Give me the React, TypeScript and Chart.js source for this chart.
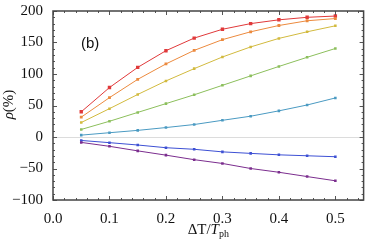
import React, { useEffect, useRef } from "react";
import { Chart, registerables } from "chart.js";

Chart.register(...registerables);

const xValues = [0.05, 0.1, 0.15, 0.2, 0.25, 0.3, 0.35, 0.4, 0.45, 0.5];
const redSeries = [40, 78.5, 110.5, 137, 157, 171, 180, 186, 190, 192];
const orangeSeries = [31.5, 62.5, 91.5, 116, 137.5, 154.5, 167, 177, 184.5, 188];
const yellowSeries = [23, 45, 67.5, 89, 108.5, 127, 143, 156.5, 167, 176.5];
const greenSeries = [12, 25, 39, 53, 67, 82, 97, 112, 126.5, 140.5];
const cyanSeries = [3, 6.8, 10.5, 15, 19.8, 26.5, 33, 41.5, 50.8, 62];
const blueSeries = [-5.5, -9, -12.7, -17, -19.5, -23.6, -26, -28.3, -29.8, -31.3];
const purpleSeries = [-8.6, -14.8, -22, -28.8, -36, -42, -50, -56, -62.8, -69.5];

const xTicks = [0, 0.1, 0.2, 0.3, 0.4, 0.5];
const yTicks = [-100, -50, 0, 50, 100, 150, 200];

const SERIF = "'Liberation Serif', 'Times New Roman', serif";

const framePlugin = {
  id: "framePlugin",
  beforeDatasetsDraw(chart: any) {
    const { ctx, chartArea, scales } = chart;
    const y0 = scales.y.getPixelForValue(0);
    ctx.save();
    ctx.strokeStyle = "#dcdcdc";
    ctx.lineWidth = 1;
    ctx.beginPath();
    ctx.moveTo(chartArea.left, Math.round(y0) + 0.5);
    ctx.lineTo(chartArea.right, Math.round(y0) + 0.5);
    ctx.stroke();
    ctx.restore();
  },
  afterDraw(chart: any) {
    const { ctx, chartArea, scales } = chart;
    const { left, right, top, bottom } = chartArea;
    ctx.save();
    ctx.strokeStyle = "#555";
    ctx.lineWidth = 1;
    // ticks
    const drawX = (v: number, len: number) => {
      const px = Math.round(scales.x.getPixelForValue(v)) + 0.5;
      ctx.beginPath();
      ctx.moveTo(px, bottom);
      ctx.lineTo(px, bottom - len);
      ctx.moveTo(px, top);
      ctx.lineTo(px, top + len);
      ctx.stroke();
    };
    const drawY = (v: number, len: number) => {
      const py = Math.round(scales.y.getPixelForValue(v)) + 0.5;
      ctx.beginPath();
      ctx.moveTo(left, py);
      ctx.lineTo(left + len, py);
      ctx.moveTo(right, py);
      ctx.lineTo(right - len, py);
      ctx.stroke();
    };
    for (let i = 0; i <= 27; i++) {
      const v = i * 0.02;
      const major = i % 5 === 0;
      drawX(v, major ? 4 : 2);
    }
    for (let i = -10; i <= 20; i++) {
      const v = i * 10;
      const major = i % 5 === 0;
      drawY(v, major ? 4 : 2);
    }
    // frame
    ctx.lineWidth = 1.5;
    ctx.strokeStyle = "#444";
    ctx.strokeRect(left, top, right - left, bottom - top);
    ctx.restore();

    // titles
    ctx.save();
    ctx.fillStyle = "#111";
    ctx.textBaseline = "alphabetic";
    // x title: ΔT/T_ph
    const partA = "\u0394T/";
    const partB = "T";
    const partC = "ph";
    ctx.font = `15px ${SERIF}`;
    const wA = ctx.measureText(partA).width;
    ctx.font = `italic 15px ${SERIF}`;
    const wB = ctx.measureText(partB).width;
    ctx.font = `10px ${SERIF}`;
    const wC = ctx.measureText(partC).width;
    const total = wA + wB + wC;
    const cx = (left + right) / 2;
    let x = cx - total / 2;
    const baseY = 234;
    ctx.textAlign = "left";
    ctx.font = `15px ${SERIF}`;
    ctx.fillText(partA, x, baseY);
    x += wA;
    ctx.font = `italic 15px ${SERIF}`;
    ctx.fillText(partB, x, baseY);
    x += wB;
    ctx.font = `10px ${SERIF}`;
    ctx.fillText(partC, x, baseY + 3);

    // y title: ρ(%)
    ctx.translate(13, (top + bottom) / 2 - 1);
    ctx.rotate(-Math.PI / 2);
    ctx.font = `italic 15px ${SERIF}`;
    const rho = "\u03C1";
    const rest = "(%)";
    const wr = ctx.measureText(rho).width;
    ctx.font = `15px ${SERIF}`;
    const wrest = ctx.measureText(rest).width;
    let yx = -(wr + wrest) / 2;
    ctx.font = `italic 15px ${SERIF}`;
    ctx.fillText(rho, yx, 0);
    yx += wr;
    ctx.font = `15px ${SERIF}`;
    ctx.fillText(rest, yx, 0);
    ctx.restore();

    // panel label
    ctx.save();
    ctx.fillStyle = "#111";
    ctx.font = `15px 'Liberation Sans', Arial, sans-serif`;
    ctx.textAlign = "left";
    ctx.textBaseline = "alphabetic";
    ctx.fillText("(b)", 81, 48);
    ctx.restore();
  },
};

function makeDataset(values: number[], color: string, r: number) {
  return {
    data: xValues.map((x, i) => ({ x, y: values[i] })),
    borderColor: color,
    backgroundColor: color,
    borderWidth: 1,
    pointStyle: "rect" as const,
    pointRadius: r,
    pointHoverRadius: r,
    pointBorderWidth: 0,
    tension: 0,
  };
}

export default function App() {
  const canvasRef = useRef<HTMLCanvasElement | null>(null);

  useEffect(() => {
    if (!canvasRef.current) return;
    const chart = new Chart(canvasRef.current, {
      type: "line",
      data: {
        datasets: [
          makeDataset(purpleSeries, "#7b2d8e", 1.8),
          makeDataset(blueSeries, "#3d50d4", 1.8),
          makeDataset(cyanSeries, "#4a9ac2", 1.8),
          makeDataset(greenSeries, "#8cbf5c", 1.8),
          makeDataset(yellowSeries, "#d2ba3e", 1.8),
          makeDataset(orangeSeries, "#ec8a3e", 2),
          makeDataset(redSeries, "#e0393a", 2.4),
        ],
      },
      plugins: [framePlugin],
      options: {
        animation: false,
        responsive: false,
        maintainAspectRatio: false,
        events: [],
        layout: { padding: { top: 8, right: 1, left: 0, bottom: 0 } },
        plugins: {
          legend: { display: false },
          tooltip: { enabled: false },
          title: { display: false },
        },
        scales: {
          x: {
            type: "linear",
            min: 0,
            max: 0.55,
            grid: { display: false },
            border: { display: false },
            afterFit: (s: any) => {
              s.height = 41;
            },
            afterBuildTicks: (s: any) => {
              s.ticks = xTicks.map((v) => ({ value: v }));
            },
            ticks: {
              padding: 2,
              color: "#111",
              font: { family: SERIF, size: 15 },
              callback: (v: any) => Number(v).toFixed(1),
            },
          },
          y: {
            type: "linear",
            min: -100,
            max: 200,
            grid: { display: false },
            border: { display: false },
            afterFit: (s: any) => {
              s.width = 53;
            },
            afterBuildTicks: (s: any) => {
              s.ticks = yTicks.map((v) => ({ value: v }));
            },
            ticks: {
              padding: 2,
              color: "#111",
              font: { family: SERIF, size: 15 },
              callback: (v: any) => {
                const n = Number(v);
                return n < 0 ? "\u2212" + Math.abs(n) : String(n);
              },
            },
          },
        },
      },
    });
    return () => chart.destroy();
  }, []);

  return (
    <div style={{ position: "fixed", left: 0, top: 0, width: 366, height: 241, background: "#fff" }}>
      <canvas ref={canvasRef} width={366} height={241} style={{ width: 366, height: 241, display: "block" }} />
    </div>
  );
}
